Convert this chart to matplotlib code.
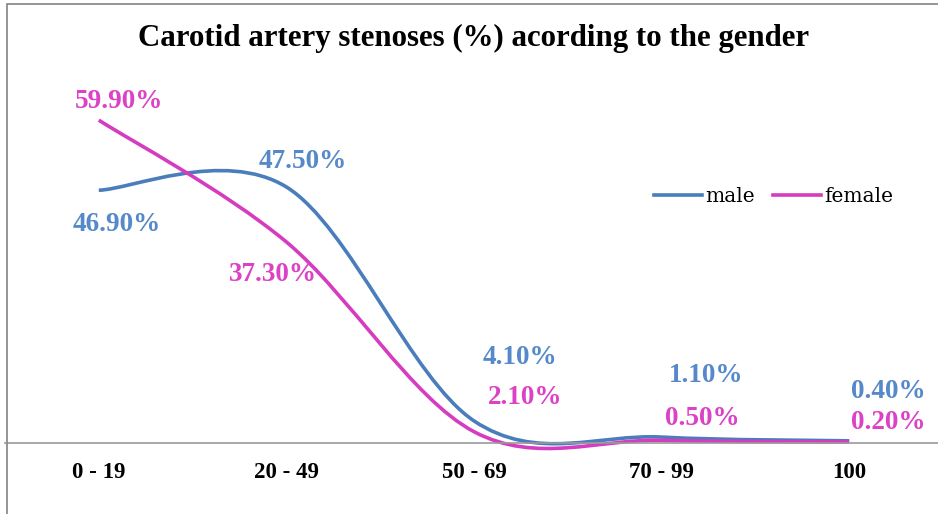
import matplotlib.pyplot as plt
from matplotlib.path import Path
from matplotlib.patches import PathPatch, Rectangle
from matplotlib.lines import Line2D

categories = ['0 - 19', '20 - 49', '50 - 69', '70 - 99', '100']
male = [46.9, 47.5, 4.1, 1.1, 0.4]
female = [59.9, 37.3, 2.1, 0.5, 0.2]

male_line = '#4a7dbb'
male_text = '#5589c9'
female_line = '#d63cbf'
female_text = '#dc42c6'

# label offsets in pixels (dx, dy) from each point
male_off = [(18, -34), (16, 25), (46, 63), (45, 62), (39, 49)]
female_off = [(20, 19), (-13, -33), (51, 34), (41, 22), (39, 19)]

plt.rcParams['font.family'] = ['Liberation Serif', 'DejaVu Serif']

W, H = 938, 514
fig = plt.figure(figsize=(W / 100, H / 100), dpi=100)

# plot area: x -0.5 at 5px, baseline at 443px from top
x0, x1 = 5, 938
y_base, y_top = 443, 66
ax = fig.add_axes([x0 / W, (H - y_base) / H, (x1 - x0) / W, (y_base - y_top) / H])
ax.set_xlim(-0.5, (x1 - 98.8) / 187.6)
ax.set_ylim(0, (y_base - y_top) / 5.39)
ax.set_facecolor('none')
for s in ['top', 'right', 'left']:
    ax.spines[s].set_visible(False)
ax.spines['bottom'].set_color('#9a9a9a')
ax.spines['bottom'].set_linewidth(1.2)
ax.set_yticks([])
ax.set_xticks(range(len(categories)))
ax.set_xticklabels(categories, fontsize=16.5, fontweight='bold')
ax.tick_params(axis='x', length=0, pad=14)


def smooth_path(xs, ys):
    n = len(xs)
    verts = [(xs[0], ys[0])]
    codes = [Path.MOVETO]
    for i in range(n - 1):
        a = i - 1 if i > 0 else i
        b = i + 2 if i + 2 < n else i + 1
        c1 = (xs[i] + (xs[i + 1] - xs[a]) / 6, ys[i] + (ys[i + 1] - ys[a]) / 6)
        c2 = (xs[i + 1] - (xs[b] - xs[i]) / 6, ys[i + 1] - (ys[b] - ys[i]) / 6)
        verts += [c1, c2, (xs[i + 1], ys[i + 1])]
        codes += [Path.CURVE4] * 3
    return Path(verts, codes)


xs = list(range(len(categories)))
ax.add_patch(PathPatch(smooth_path(xs, male), fill=False, ec=male_line, lw=2.6,
                       capstyle='butt', clip_on=False))
ax.add_patch(PathPatch(smooth_path(xs, female), fill=False, ec=female_line, lw=2.6,
                       capstyle='butt', clip_on=False))

for i, v in enumerate(male):
    ax.annotate(f'{v:.2f}%', (i, v), xytext=male_off[i], textcoords='offset pixels',
                ha='center', va='center', color=male_text, fontsize=19.5, fontweight='bold')
for i, v in enumerate(female):
    ax.annotate(f'{v:.2f}%', (i, v), xytext=female_off[i], textcoords='offset pixels',
                ha='center', va='center', color=female_text, fontsize=19.5, fontweight='bold')

handles = [Line2D([], [], color=male_line, lw=2.6), Line2D([], [], color=female_line, lw=2.6)]
fig.legend(handles, ['male', 'female'], loc='center left', bbox_to_anchor=(654 / W, (H - 197) / H),
           ncol=2, frameon=False, prop={'family': 'DejaVu Serif', 'size': 14.5},
           handlelength=2.4, handletextpad=0.15, columnspacing=0.9, borderpad=0, borderaxespad=0)

fig.text(474 / W, (H - 38) / H, 'Carotid artery stenoses (%) acording to the gender',
         ha='center', va='center', fontsize=22.2, fontweight='bold')

# chart border (left and top edges visible)
fig.add_artist(Rectangle((7 / W, -0.05), 1.1, (H - 4) / H + 0.05, transform=fig.transFigure,
                         fill=False, ec='#8c8c8c', lw=1.3))

fig.savefig('out.png', dpi=100)
